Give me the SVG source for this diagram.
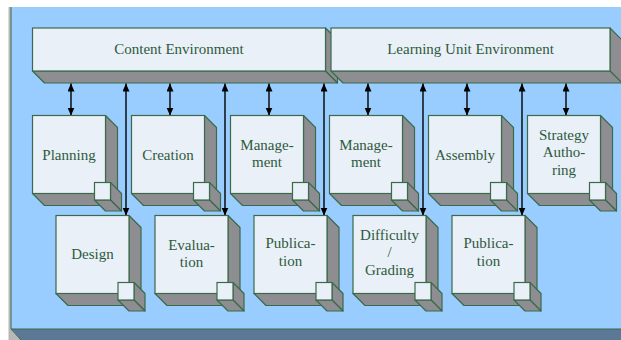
<svg xmlns="http://www.w3.org/2000/svg" xmlns:xlink="http://www.w3.org/1999/xlink" width="621" height="340" viewBox="0 0 621 340">
<style>
.front{fill:#eaf0f8;stroke:#3a6a4a;stroke-width:1.2}
.side{fill:#8e8e92;stroke:#3a6a4a;stroke-width:1.2;stroke-linejoin:round}
.lbl{font-family:"Liberation Serif","Times New Roman",serif;font-size:15px;fill:#2e5a3c;text-anchor:middle}
.conn{stroke:#000;stroke-width:1.4;fill:none;marker-start:url(#ah);marker-end:url(#ah)}
</style>
<defs>
<marker id="ah" markerUnits="userSpaceOnUse" markerWidth="8" markerHeight="8" refX="8" refY="3.5" orient="auto-start-reverse">
<path d="M0,0 L8,3.5 L0,7 z" fill="#000"/>
</marker>
<g id="cube">
<polygon class="side" points="73,0 85,12 85,90 73,78"/>
<polygon class="side" points="0,78 73,78 85,90 12,90"/>
<rect class="front" x="0" y="0" width="73" height="78"/>
<polygon class="side" points="78,67 89,78 89,95.5 78,84.5"/>
<polygon class="side" points="62,84.5 78,84.5 89,95.5 73,95.5"/>
<rect class="front" x="62" y="67" width="16" height="17.5"/>
</g>
</defs>

<g id="panel">
<rect x="8.5" y="7" width="3" height="333" fill="#b8b8b8"/>
<rect x="11" y="7" width="610" height="322" fill="#99ccff"/>
<polygon points="11,329 621,329 621,340 21,340" fill="#5b7896"/>
<polygon points="11,329 21,340 11,340" fill="#b8b8b8"/>
<path d="M11,7 V329 H621 M11,329 L21,340" stroke="#3a6a4a" stroke-width="1" fill="none"/>
</g>

<g id="content-env">
<polygon class="side" points="325.5,28 337.5,40 337.5,83 325.5,71"/>
<polygon class="side" points="32.5,71 325.5,71 337.5,83 44.5,83"/>
<rect class="front" x="32.5" y="28" width="293" height="43"/>
<text class="lbl" x="179" y="54">Content Environment</text>
</g>

<g id="learning-env">
<polygon class="side" points="610,28 622,40 622,83 610,71"/>
<polygon class="side" points="331,71 610,71 622,83 343,83"/>
<rect class="front" x="331" y="28" width="279" height="43"/>
<text class="lbl" x="470.5" y="54">Learning Unit Environment</text>
</g>

<g id="connectors">
<line class="conn" x1="71" y1="83.5" x2="71" y2="115.5"/>
<line class="conn" x1="170" y1="83.5" x2="170" y2="115.5"/>
<line class="conn" x1="269" y1="83.5" x2="269" y2="115.5"/>
<line class="conn" x1="368" y1="83.5" x2="368" y2="115.5"/>
<line class="conn" x1="467" y1="83.5" x2="467" y2="115.5"/>
<line class="conn" x1="566" y1="83.5" x2="566" y2="115.5"/>
<line class="conn" x1="126" y1="83.5" x2="126" y2="215.5"/>
<line class="conn" x1="225" y1="83.5" x2="225" y2="215.5"/>
<line class="conn" x1="324" y1="83.5" x2="324" y2="215.5"/>
<line class="conn" x1="423" y1="83.5" x2="423" y2="215.5"/>
<line class="conn" x1="522" y1="83.5" x2="522" y2="215.5"/>
</g>

<g id="planning" transform="translate(32.5,115.5)">
<use xlink:href="#cube"/>
<text class="lbl" x="36.5" y="44">Planning</text>
</g>
<g id="creation" transform="translate(131.5,115.5)">
<use xlink:href="#cube"/>
<text class="lbl" x="36.5" y="44">Creation</text>
</g>
<g id="management-content" transform="translate(230.5,115.5)">
<use xlink:href="#cube"/>
<text class="lbl" x="36.5" y="34">Manage-</text>
<text class="lbl" x="36.5" y="51.5">ment</text>
</g>
<g id="management-lu" transform="translate(329.5,115.5)">
<use xlink:href="#cube"/>
<text class="lbl" x="36.5" y="34">Manage-</text>
<text class="lbl" x="36.5" y="51.5">ment</text>
</g>
<g id="assembly" transform="translate(428.5,115.5)">
<use xlink:href="#cube"/>
<text class="lbl" x="36.5" y="44">Assembly</text>
</g>
<g id="strategy-authoring" transform="translate(527.5,115.5)">
<use xlink:href="#cube"/>
<text class="lbl" x="36.5" y="24">Strategy</text>
<text class="lbl" x="36.5" y="41.5">Autho-</text>
<text class="lbl" x="36.5" y="59">ring</text>
</g>

<g id="design" transform="translate(56,215.5)">
<use xlink:href="#cube"/>
<text class="lbl" x="36.5" y="43">Design</text>
</g>
<g id="evaluation" transform="translate(155,215.5)">
<use xlink:href="#cube"/>
<text class="lbl" x="36.5" y="34">Evalua-</text>
<text class="lbl" x="36.5" y="51.5">tion</text>
</g>
<g id="publication-content" transform="translate(254,215.5)">
<use xlink:href="#cube"/>
<text class="lbl" x="36.5" y="32.5">Publica-</text>
<text class="lbl" x="36.5" y="50.5">tion</text>
</g>
<g id="difficulty-grading" transform="translate(353,215.5)">
<use xlink:href="#cube"/>
<text class="lbl" x="36.5" y="24">Difficulty</text>
<text class="lbl" x="36.5" y="41.5">/</text>
<text class="lbl" x="36.5" y="59.5">Grading</text>
</g>
<g id="publication-lu" transform="translate(452,215.5)">
<use xlink:href="#cube"/>
<text class="lbl" x="36.5" y="32.5">Publica-</text>
<text class="lbl" x="36.5" y="50.5">tion</text>
</g>
</svg>
